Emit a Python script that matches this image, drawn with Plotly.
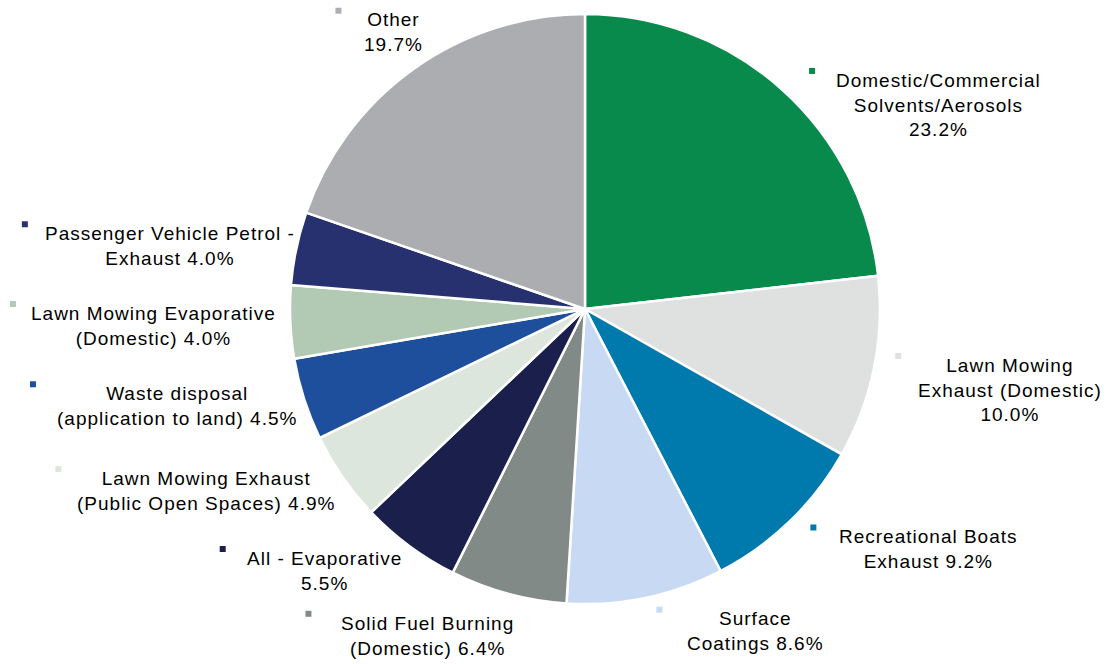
import math
import plotly.graph_objects as go

# ---------------- data ----------------
categories = [
    "Domestic/Commercial Solvents/Aerosols",
    "Lawn Mowing Exhaust (Domestic)",
    "Recreational Boats Exhaust",
    "Surface Coatings",
    "Solid Fuel Burning (Domestic)",
    "All - Evaporative",
    "Lawn Mowing Exhaust (Public Open Spaces)",
    "Waste disposal (application to land)",
    "Lawn Mowing Evaporative (Domestic)",
    "Passenger Vehicle Petrol - Exhaust",
    "Other",
]
values = [23.2, 10.0, 9.2, 8.6, 6.4, 5.5, 4.9, 4.5, 4.0, 4.0, 19.7]
label_lines = [
    ["Domestic/Commercial", "Solvents/Aerosols"],
    ["Lawn Mowing", "Exhaust (Domestic)"],
    ["Recreational Boats", "Exhaust"],
    ["Surface", "Coatings"],
    ["Solid Fuel Burning", "(Domestic)"],
    ["All - Evaporative", ""],
    ["Lawn Mowing Exhaust", "(Public Open Spaces)"],
    ["Waste disposal", "(application to land)"],
    ["Lawn Mowing Evaporative", "(Domestic)"],
    ["Passenger Vehicle Petrol -", "Exhaust"],
    ["Other", ""],
]
# whether the percentage goes on its own line
pct_own_line = [True, True, False, False, False, True, False, False, False, False, True]

# ---------------- styles ----------------
colors = ["#078A4C", "#DFE1E0", "#0079AD", "#C8DAF3", "#828A87", "#1B1F4C",
          "#DCE6DD", "#1E4F9C", "#B2C9B3", "#283170", "#ABADB1"]

W, H = 1108, 664
CX, CY, R = 585, 309, 295
FS = 19
LS = 1.0   # letter spacing px
LH = 24.5

# label placement: offset of (block centre x, first-line centre y) from slice's outer mid point
label_offsets = [(157, -9), (136, -3), (139, 15), (110, 21), (-81, 29), (-85, 12),
                 (-137, 1), (-127, -6), (-137, -9), (-126, -15), (-20, -49)]
# gap between marker square and text block
marker_gaps = [24, 20, 26, 28, 32, 24, 18, 24, 18, 20, 26]

# Arial / Liberation Sans advance widths (per 1000 em)
AW = {}
for ch in "abdeghnopqu0123456789$":
    AW[ch] = 556
for ch in "ckszvxy":
    AW[ch] = 500
AW.update({"i": 222, "l": 222, "j": 222, "f": 278, "t": 278, "r": 333, "m": 833, "w": 722,
           " ": 278, "(": 333, ")": 333, "/": 278, "-": 333, ".": 278, "%": 889,
           "A": 667, "B": 667, "E": 667, "K": 667, "P": 667, "S": 667, "V": 667, "X": 667, "Y": 667,
           "C": 722, "D": 722, "H": 722, "N": 722, "R": 722, "U": 722,
           "G": 778, "O": 778, "Q": 778, "M": 833, "W": 944, "F": 611, "T": 611, "Z": 611,
           "L": 556, "I": 278, "J": 500})


def text_w(s):
    return sum(AW.get(c, 556) for c in s) / 1000.0 * FS + LS * len(s)


fig = go.Figure()
fig.add_trace(go.Pie(
    labels=categories, values=values, sort=False, direction="clockwise", rotation=0,
    marker=dict(colors=colors, line=dict(color="white", width=2.5)),
    textinfo="none", hoverinfo="label+percent", showlegend=False,
    domain=dict(x=[(CX - R) / W, (CX + R) / W], y=[1 - (CY + R) / H, 1 - (CY - R) / H]),
))

total = sum(values)
cum = 0.0
mk_x, mk_y = [], []
annotations = []
for i, v in enumerate(values):
    mid = (cum + v / 2) / total * 2 * math.pi
    cum += v
    ex = CX + R * math.sin(mid)
    ey = CY - R * math.cos(mid)
    dx, dy = label_offsets[i]
    bx, l1y = ex + dx, ey + dy
    pct = f"{v:.1f}%"
    lines = [l for l in label_lines[i] if l]
    if pct_own_line[i]:
        lines = lines + [pct]
    else:
        lines[-1] = lines[-1] + " " + pct
    wmax = max(text_w(l) for l in lines)
    txt = "<br>".join(f'<span style="letter-spacing:{LS}px">{l}</span>' for l in lines)
    annotations.append(dict(
        x=bx, y=l1y - LH / 2, xref="x", yref="y", xanchor="center", yanchor="top",
        text=txt, showarrow=False, align="center",
        font=dict(family="Liberation Sans, Arial, sans-serif", size=FS, color="#000000"),
    ))
    mk_x.append(bx - wmax / 2 - marker_gaps[i])
    mk_y.append(l1y - 9)

fig.add_trace(go.Scatter(
    x=mk_x, y=mk_y, mode="markers", hoverinfo="skip", showlegend=False,
    marker=dict(symbol="square", size=6, color=colors, line=dict(width=0)),
))

fig.update_layout(
    width=W, height=H, margin=dict(l=0, r=0, t=0, b=0),
    paper_bgcolor="white", plot_bgcolor="rgba(0,0,0,0)",
    xaxis=dict(range=[0, W], visible=False, domain=[0, 1], fixedrange=True),
    yaxis=dict(range=[H, 0], visible=False, domain=[0, 1], fixedrange=True),
    annotations=annotations,
)

fig.write_html(
    "out.html",
    config={"displayModeBar": False},
    post_script="document.body.style.margin='0';document.body.style.overflow='hidden';",
)
